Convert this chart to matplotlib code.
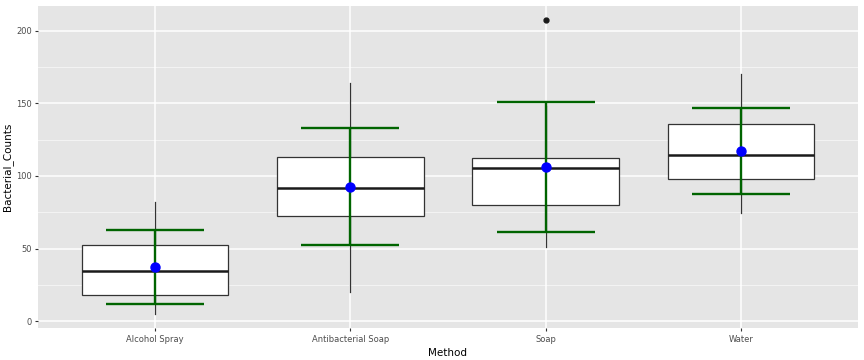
import matplotlib
matplotlib.use("Agg")
import matplotlib.pyplot as plt
import numpy as np

# data
methods = ["Alcohol Spray", "Antibacterial Soap", "Soap", "Water"]
whisker_low = [5.3, 20.2, 51.1, 74.5]
q1 = [17.9, 72.2, 79.8, 98.2]
medians = [34.6, 91.5, 105.3, 114.7]
q3 = [52.7, 113.0, 112.1, 136.0]
whisker_high = [82.1, 164.0, 148.0, 169.9]
outliers = [[], [], [207.1], []]
means = [37.6, 92.7, 106.2, 117.0]
err_low = [12.2, 52.7, 61.4, 87.6]
err_high = [62.8, 132.8, 150.9, 146.8]

fig = plt.figure(figsize=(8.64, 3.6), dpi=100)
ax = fig.add_axes([0.044, 0.088, 0.949, 0.896])
ax.set_facecolor("#E5E5E5")

pos = np.arange(1, len(methods) + 1)

# grid
for v in [25, 75, 125, 175]:
    ax.axhline(v, color="#F4F4F4", lw=0.7, zorder=0)
for v in [0, 50, 100, 150, 200]:
    ax.axhline(v, color="white", lw=1.1, zorder=0)
for p in pos:
    ax.axvline(p, color="white", lw=1.1, zorder=0)

stats = []
for i in range(len(methods)):
    stats.append({"whislo": whisker_low[i], "q1": q1[i], "med": medians[i],
                  "q3": q3[i], "whishi": whisker_high[i], "fliers": outliers[i]})

ax.bxp(stats, positions=pos, widths=0.75, showcaps=False, patch_artist=True,
       boxprops=dict(facecolor="white", edgecolor="#333333", lw=0.9),
       whiskerprops=dict(color="#333333", lw=0.9),
       medianprops=dict(color="#1A1A1A", lw=1.8),
       flierprops=dict(marker="o", markerfacecolor="#1A1A1A", markeredgecolor="#1A1A1A",
                       markersize=3.5),
       zorder=2)

# mean +/- error bars
means_arr = np.array(means)
yerr = [means_arr - np.array(err_low), np.array(err_high) - means_arr]
ax.errorbar(pos, means, yerr=yerr, fmt="none", ecolor="#006400", elinewidth=1.7,
            capsize=35, capthick=1.7, zorder=3)
ax.scatter(pos, means, s=42, color="blue", zorder=4)

ax.set_xlim(0.4, 4.6)
ax.set_ylim(-4.8, 217.1)
ax.set_xticks(pos)
ax.set_xticklabels(methods)
ax.set_yticks([0, 50, 100, 150, 200])
ax.tick_params(axis="both", colors="#333333", labelcolor="#4D4D4D", labelsize=6,
               length=2.5, width=0.8, pad=2)
for s in ax.spines.values():
    s.set_visible(False)

ax.set_xlabel("Method", fontsize=7.5)
ax.set_ylabel("Bacterial_Counts", fontsize=7.5)
ax.xaxis.set_label_coords(0.5, -0.061)
ax.yaxis.set_label_coords(-0.03, 0.5)

fig.savefig("out.png", dpi=100)
